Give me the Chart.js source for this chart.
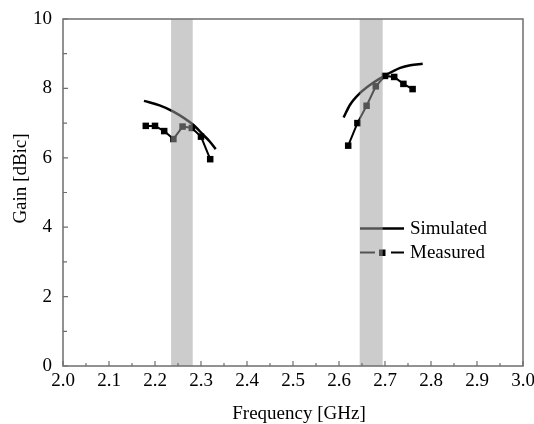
<!DOCTYPE html>
<html>
<head>
<meta charset="utf-8">
<script src="https://cdn.jsdelivr.net/npm/chart.js@4.4.1/dist/chart.umd.min.js"></script>
<style>
  html, body { margin: 0; padding: 0; background: #fff; }
  #wrap { width: 534px; height: 424px; }
</style>
</head>
<body>
<div id="wrap"><canvas id="gainChart"></canvas></div>
<script>
// frequency in GHz, gain in dBic
var simLowFreq = [2.176, 2.21, 2.24, 2.283, 2.305, 2.319, 2.332];
var simLowGain = [7.64, 7.51, 7.33, 6.95, 6.66, 6.47, 6.25];
var simHighFreq = [2.61, 2.624, 2.646, 2.675, 2.70, 2.733, 2.755, 2.782];
var simHighGain = [7.16, 7.53, 7.87, 8.17, 8.37, 8.59, 8.67, 8.71];

var measLowFreq = [2.18, 2.20, 2.22, 2.24, 2.26, 2.28, 2.30, 2.32];
var measLowGain = [6.92, 6.92, 6.77, 6.54, 6.90, 6.86, 6.61, 5.96];
var measHighFreq = [2.62, 2.64, 2.66, 2.68, 2.70, 2.72, 2.74, 2.76];
var measHighGain = [6.35, 7.00, 7.50, 8.06, 8.36, 8.33, 8.13, 7.98];

// shaded operating bands
var bands = [[2.235, 2.282], [2.645, 2.695]];

var xTicks = [2.0, 2.1, 2.2, 2.3, 2.4, 2.5, 2.6, 2.7, 2.8, 2.9, 3.0];
var yTicks = [0, 2, 4, 6, 8, 10];

var serif = "'Liberation Serif', 'Times New Roman', serif";

function pts(xs, ys) {
    return xs.map(function (x, i) { return { x: x, y: ys[i] }; });
}

function simSet(xs, ys) {
    return {
        data: pts(xs, ys),
        borderColor: '#000',
        borderWidth: 2.5,
        pointRadius: 0,
        tension: 0.4,
        cubicInterpolationMode: 'monotone',
        showLine: true
    };
}

function measSet(xs, ys) {
    return {
        data: pts(xs, ys),
        borderColor: '#000',
        backgroundColor: '#000',
        borderWidth: 2,
        pointStyle: 'rect',
        pointRadius: 4.6,
        pointBorderWidth: 0,
        tension: 0,
        showLine: true
    };
}

// inward ticks, frame, legend, bands and axis titles
var decor = {
    id: 'decor',
    afterDatasetsDraw: function (chart) {
        var ctx = chart.ctx;
        var a = chart.chartArea;
        var xs = chart.scales.x, ys = chart.scales.y;
        ctx.save();

        // legend
        ctx.strokeStyle = '#000';
        ctx.fillStyle = '#000';
        ctx.lineWidth = 2.5;
        ctx.beginPath();
        ctx.moveTo(360, 228.5); ctx.lineTo(404, 228.5);
        ctx.stroke();
        ctx.lineWidth = 2;
        ctx.beginPath();
        ctx.moveTo(360, 252.5); ctx.lineTo(375, 252.5);
        ctx.moveTo(391, 252.5); ctx.lineTo(404, 252.5);
        ctx.stroke();
        ctx.fillRect(379, 249.5, 6.5, 6.5);
        ctx.font = '19px ' + serif;
        ctx.textBaseline = 'middle';
        ctx.textAlign = 'left';
        ctx.fillText('Simulated', 410, 229);
        ctx.fillText('Measured', 410, 253);

        // translucent bands drawn over the curves
        ctx.fillStyle = 'rgba(159,159,159,0.53)';
        bands.forEach(function (b) {
            var l = xs.getPixelForValue(b[0]), r = xs.getPixelForValue(b[1]);
            ctx.fillRect(l, a.top, r - l, a.bottom - a.top);
        });

        // frame
        ctx.strokeStyle = '#6e6e6e';
        ctx.lineWidth = 1.5;
        ctx.strokeRect(a.left, a.top, a.right - a.left, a.bottom - a.top);

        // ticks pointing into the plot
        ctx.lineWidth = 1.2;
        ctx.beginPath();
        for (var i = 0; i <= 20; i++) {
            var px = xs.getPixelForValue(2 + i * 0.05);
            var len = i % 2 === 0 ? 5 : 3;
            ctx.moveTo(px, a.bottom); ctx.lineTo(px, a.bottom - len);
        }
        for (var j = 0; j <= 10; j++) {
            var py = ys.getPixelForValue(j);
            var ylen = j % 2 === 0 ? 5 : 4;
            ctx.moveTo(a.left, py); ctx.lineTo(a.left + ylen, py);
        }
        ctx.stroke();

        // axis titles
        ctx.fillStyle = '#000';
        ctx.font = '19px ' + serif;
        ctx.textAlign = 'center';
        ctx.textBaseline = 'alphabetic';
        ctx.fillText('Frequency [GHz]', 299, 419);
        ctx.translate(26, 178.5);
        ctx.rotate(-Math.PI / 2);
        ctx.fillText('Gain [dBic]', 0, 0);
        ctx.restore();
    }
};

var ctx = document.getElementById('gainChart').getContext('2d');
var gainChart = new Chart(ctx, {
    type: 'scatter',
    data: {
        datasets: [
            simSet(simLowFreq, simLowGain),
            simSet(simHighFreq, simHighGain),
            measSet(measLowFreq, measLowGain),
            measSet(measHighFreq, measHighGain)
        ]
    },
    options: {
        responsive: true,
        maintainAspectRatio: false,
        animation: false,
        layout: { padding: { top: 19, right: 11, left: 0, bottom: 0 } },
        plugins: {
            legend: { display: false },
            tooltip: { enabled: false }
        },
        scales: {
            x: {
                type: 'linear',
                min: 2.0,
                max: 3.0,
                afterFit: function (s) {
                    s.height = 58;
                    s.paddingLeft = 0;
                    s.paddingRight = 0;
                },
                afterBuildTicks: function (s) {
                    s.ticks = xTicks.map(function (v) { return { value: v }; });
                },
                grid: { display: false, drawTicks: false },
                border: { display: false },
                ticks: {
                    color: '#000',
                    padding: 4,
                    maxRotation: 0,
                    autoSkip: false,
                    font: { family: serif, size: 19 },
                    callback: function (v) { return Number(v).toFixed(1); }
                }
            },
            y: {
                min: 0,
                max: 10,
                afterFit: function (s) {
                    s.width = 63;
                    s.paddingTop = 0;
                    s.paddingBottom = 0;
                },
                afterBuildTicks: function (s) {
                    s.ticks = yTicks.map(function (v) { return { value: v }; });
                },
                grid: { display: false, drawTicks: false },
                border: { display: false },
                ticks: {
                    color: '#000',
                    padding: 11,
                    font: { family: serif, size: 19 }
                }
            }
        }
    },
    plugins: [decor]
});
</script>
</body>
</html>
